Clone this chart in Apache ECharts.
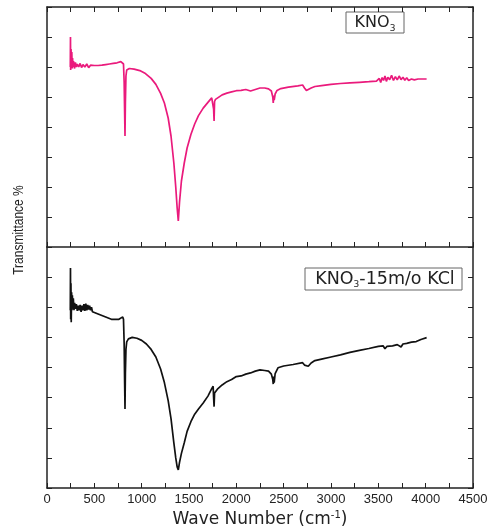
<!DOCTYPE html>
<html>
<head>
<meta charset="UTF-8">
<title>FTIR</title>
<script src="https://cdn.jsdelivr.net/npm/echarts@6/dist/echarts.min.js"></script>
</head>
<body style="margin:0">
<div id='main' style="width:489px;height:528px"></div>
<script type="text/javascript">
// top panel: KNO3 (magenta)
var waveTop = [246,248,250,254,258,262,266,270,275,280,290,300,310,320,335,350,365,380,400,420,440,460,480,500,520,540,560,580,600,620,640,660,680,700,720,740,760,780,800,808,815,820,824,828,834,842,850,870,920,980,1040,1100,1150,1200,1240,1280,1310,1340,1360,1375,1387,1400,1420,1450,1480,1520,1560,1600,1650,1700,1740,1755,1760,1765,1770,1780,1800,1850,1900,1950,2000,2050,2100,2150,2200,2250,2300,2340,2370,2385,2390,2395,2400,2410,2430,2470,2550,2650,2700,2720,2740,2760,2790,2830,2900,3000,3100,3200,3300,3400,3480,3500,3510,3525,3540,3555,3570,3585,3600,3620,3640,3660,3680,3700,3720,3740,3760,3780,3800,3820,3850,3880,3920,3960,4010];
var transTop = [6.0,7.0,5.9,6.6,6.0,6.5,5.95,6.3,6.0,6.2,5.95,6.15,6.0,6.1,6.0,6.12,5.98,6.08,6.0,6.1,5.98,6.06,6.0,6.05,6.0,6.05,6.02,6.06,6.04,6.08,6.06,6.1,6.09,6.12,6.12,6.14,6.15,6.18,6.2,6.1,5.5,4.5,3.7,4.8,5.7,5.9,5.95,5.95,5.93,5.88,5.78,5.62,5.42,5.12,4.8,4.3,3.7,2.8,2.0,1.3,0.87,1.5,2.2,2.8,3.3,3.75,4.1,4.38,4.63,4.82,4.97,5.0,4.6,4.2,4.85,4.92,4.98,5.07,5.13,5.17,5.21,5.22,5.25,5.2,5.25,5.3,5.3,5.27,5.2,5.0,4.8,5.05,4.9,5.1,5.22,5.28,5.33,5.37,5.4,5.3,5.22,5.23,5.3,5.35,5.38,5.42,5.45,5.47,5.49,5.51,5.53,5.5,5.62,5.48,5.65,5.55,5.7,5.52,5.66,5.58,5.72,5.55,5.68,5.57,5.7,5.58,5.66,5.56,5.64,5.55,5.6,5.57,5.6,5.6,5.6];

// bottom panel: KNO3-15m/o KCl (black)
var waveBot = [246,248,250,253,256,260,264,268,272,278,285,292,300,310,320,330,340,350,360,370,380,390,400,410,420,430,440,450,460,470,480,500,520,540,560,580,600,620,640,660,680,700,720,740,760,780,800,808,815,820,824,828,834,842,860,900,950,1000,1050,1100,1150,1200,1240,1280,1310,1340,1360,1375,1387,1400,1420,1450,1480,1520,1560,1600,1650,1700,1740,1755,1760,1765,1770,1780,1800,1850,1900,1950,2000,2050,2100,2150,2200,2250,2300,2340,2370,2385,2390,2395,2400,2410,2440,2500,2600,2700,2720,2740,2760,2790,2830,2900,3000,3100,3200,3300,3400,3500,3550,3570,3590,3650,3700,3740,3760,3800,3850,3900,3950,4010];
var transBot = [5.9,7.3,5.6,6.8,5.5,6.5,5.9,6.4,5.95,6.3,5.9,6.15,5.95,6.1,5.88,6.05,5.9,6.08,5.85,6.05,5.9,6.1,5.88,6.12,5.9,6.08,5.92,6.05,5.9,6.0,5.85,5.9,5.8,5.82,5.75,5.73,5.7,5.68,5.65,5.62,5.6,5.58,5.6,5.57,5.6,5.62,5.68,5.6,4.8,3.5,2.62,3.8,4.6,4.85,4.95,5.0,4.97,4.9,4.78,4.6,4.35,3.95,3.5,2.9,2.3,1.5,1.0,0.7,0.6,0.85,1.15,1.5,1.88,2.2,2.45,2.62,2.82,3.05,3.3,3.38,3.0,2.7,3.15,3.2,3.28,3.42,3.53,3.6,3.7,3.72,3.78,3.82,3.88,3.92,3.9,3.88,3.78,3.6,3.45,3.7,3.5,3.8,3.99,4.05,4.1,4.16,4.08,4.02,4.04,4.15,4.23,4.28,4.35,4.42,4.5,4.57,4.63,4.7,4.72,4.62,4.7,4.72,4.76,4.68,4.78,4.8,4.84,4.86,4.93,4.99];

function pairs(xs, ys){
	var out=[];
	for(var i=0;i<xs.length;i++){
		out.push([xs[i],ys[i]]);
	}
	return out;
}

var font='Liberation Sans';
var wide='DejaVu Sans';
var lineCol='#222';

function xAx(grid,pos,labels){
	return {
		type:'value',gridIndex:grid,position:pos,min:0,max:4500,interval:500,
		axisLine:{onZero:false,lineStyle:{color:lineCol,width:1.5}},
		axisTick:{show:true,inside:true,length:5,lineStyle:{color:lineCol}},
		minorTick:{show:true,splitNumber:2,length:5,lineStyle:{color:lineCol}},
		axisLabel:{show:labels,color:'#222',fontFamily:font,fontSize:13,margin:5,
			formatter:function(v){return String(v);}},
		splitLine:{show:false}
	};
}
function yAx(grid,pos){
	return {
		type:'value',gridIndex:grid,position:pos,min:0,max:8,interval:1,
		axisLine:{show:true,onZero:false,lineStyle:{color:lineCol,width:1.5}},
		axisTick:{show:true,inside:true,length:5,lineStyle:{color:lineCol}},
		axisLabel:{show:false},
		splitLine:{show:false}
	};
}

var myChart=echarts.init(document.getElementById('main'));
var xBottom=xAx(1,'bottom',true);
xBottom.name='{a|Wave Number (cm}{s|-1}{a|)}';
xBottom.nameLocation='middle';
xBottom.nameGap=22;
xBottom.nameTextStyle={rich:{
	a:{fontFamily:wide,fontSize:17,color:'#222'},
	s:{fontFamily:wide,fontSize:10,color:'#222',verticalAlign:'top',padding:[0,0,9,0]}
}};

var option={
	animation:false,
	backgroundColor:'#fff',
	grid:[
		{left:47,top:7,width:426,height:240,outerBoundsMode:'none',containLabel:false},
		{left:47,top:247,width:426,height:241,outerBoundsMode:'none',containLabel:false}
	],
	xAxis:[xAx(0,'bottom',false),xAx(0,'top',false),xBottom],
	yAxis:[yAx(0,'left'),yAx(0,'right'),yAx(1,'left'),yAx(1,'right')],
	series:[
		{type:'line',xAxisIndex:0,yAxisIndex:0,showSymbol:false,symbol:'none',
			lineStyle:{color:'#ea1a7c',width:1.7},data:pairs(waveTop,transTop)},
		{type:'line',xAxisIndex:2,yAxisIndex:2,showSymbol:false,symbol:'none',
			lineStyle:{color:'#111',width:1.7},data:pairs(waveBot,transBot)}
	],
	graphic:[
		{type:'text',x:19,y:230,rotation:Math.PI/2,scaleX:0.8,scaleY:1,
			style:{text:'Transmittance %',fontFamily:font,fontSize:15,fill:'#222',
				align:'center',verticalAlign:'middle'}},
		{type:'rect',shape:{x:346,y:12,width:58,height:21},
			style:{fill:'#fff',stroke:'#666',lineWidth:1}},
		{type:'text',x:375,y:23,
			style:{text:'{a|KNO}{s|3}',align:'center',verticalAlign:'middle',
				rich:{a:{fontFamily:wide,fontSize:16,fill:'#222'},
					s:{fontFamily:wide,fontSize:9,fill:'#222',padding:[11,0,0,0]}}}},
		{type:'rect',shape:{x:305,y:268,width:157,height:22},
			style:{fill:'#fff',stroke:'#666',lineWidth:1}},
		{type:'text',x:385,y:279,
			style:{text:'{a|KNO}{s|3}{a|-15m/o KCl}',align:'center',verticalAlign:'middle',
				rich:{a:{fontFamily:wide,fontSize:17.5,fill:'#222'},
					s:{fontFamily:wide,fontSize:9,fill:'#222',padding:[11,0,0,0]}}}}
	]
};
myChart.setOption(option);
</script>
</body>
</html>
